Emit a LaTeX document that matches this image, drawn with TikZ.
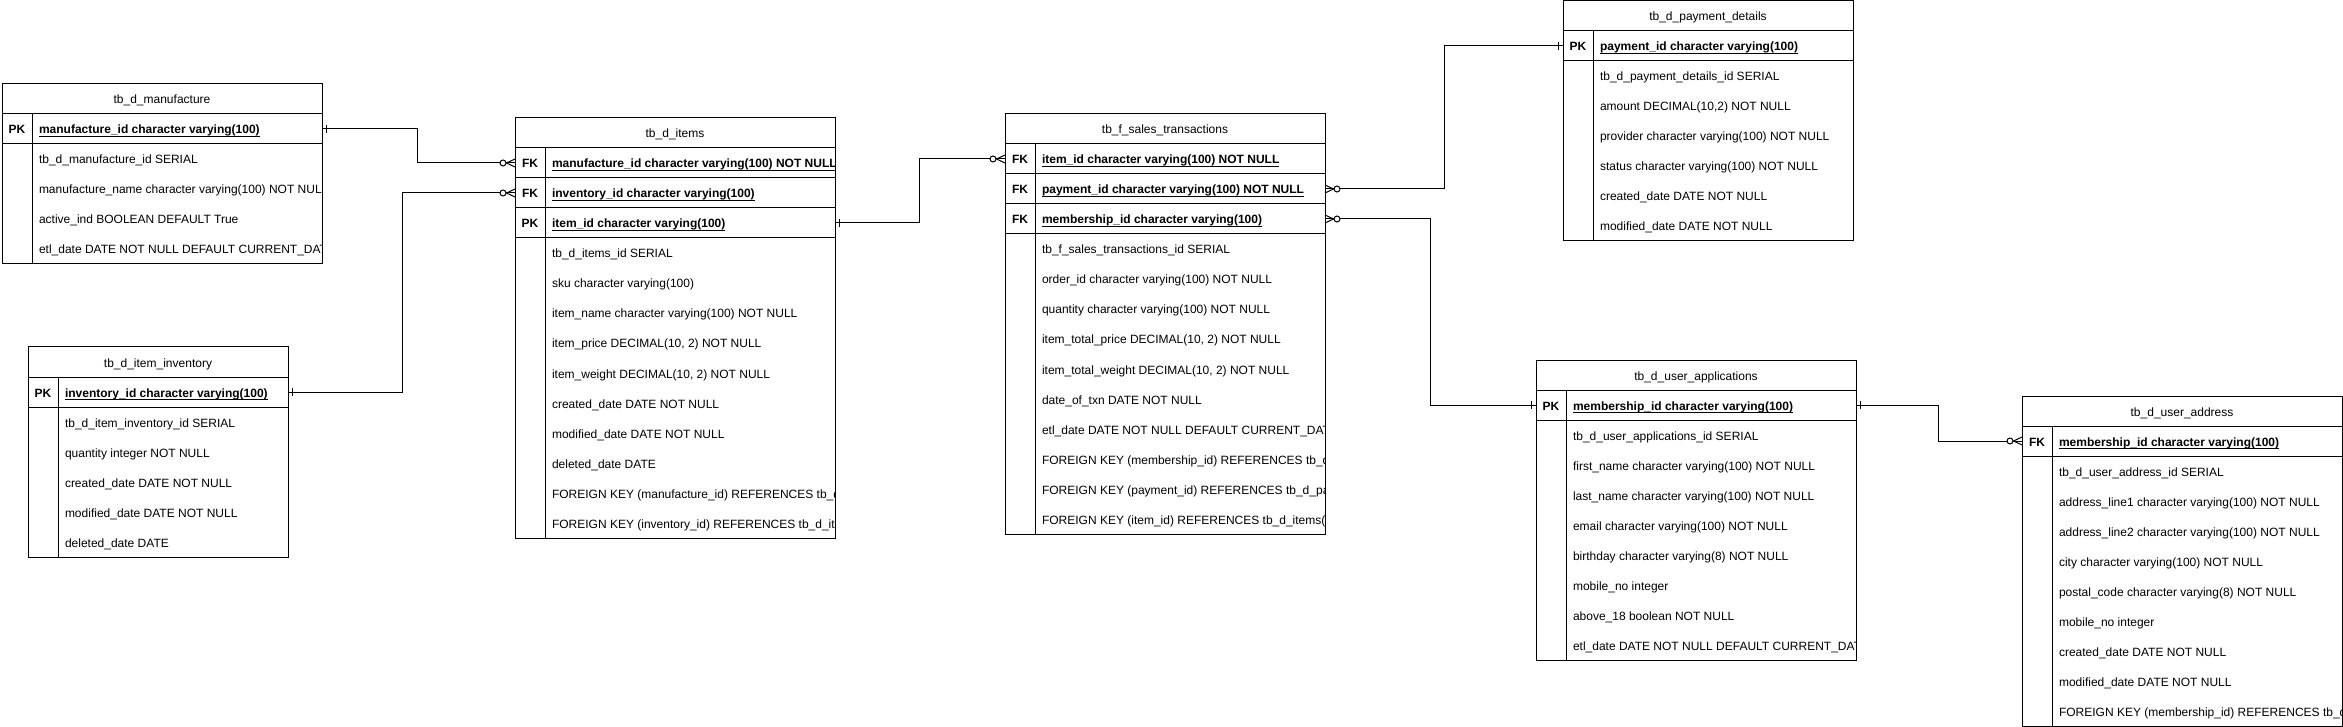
\documentclass[tikz,border=0pt]{standalone}
\usepackage{fontspec}
\setmainfont{Liberation Sans}
\usetikzlibrary{decorations.markings}
\newsavebox\keybox
\newcommand\keyul[1]{\sbox\keybox{#1}\rlap{\rule[-2.6pt]{\wd\keybox}{0.9pt}}\usebox\keybox}

\begin{document}
\begin{tikzpicture}[x=1pt, y=-1pt, line width=1pt,
    every node/.style={outer sep=0pt, font=\fontsize{12}{14}\selectfont},
    tabhead/.style={draw, anchor=north west, minimum height=30pt, inner sep=0pt, text height=12pt, text depth=2pt},
    keyrow/.style={draw, anchor=north west, minimum height=30pt, inner sep=0pt},
    keylbl/.style={draw, anchor=west, minimum width=30pt, minimum height=30pt, inner sep=0pt, text height=12pt, text depth=2pt, font=\fontsize{12}{14}\selectfont\bfseries},
    fieldtxt/.style={anchor=north west, minimum height=30pt, inner xsep=7pt, inner ysep=0pt, text height=12pt, text depth=2pt},
    keytxt/.style={fieldtxt, anchor=west, font=\fontsize{12}{14}\selectfont\bfseries},
    relline/.style={draw},
    one start/.style={postaction={decorate, decoration={markings,
        mark=at position 4.5pt with {\draw (0,-4pt) -- (0,4pt);}}}},
    many end/.style={
      postaction={decorate, decoration={markings,
        mark=at position -8.5pt with {\draw (8.5pt,-4pt) -- (0,0) -- (8.5pt,4pt);}}},
      postaction={decorate, decoration={markings,
        mark=at position -12pt with {\draw[fill=white] (0,0) circle (3pt);}}}}]
  \useasboundingbox (0,0) rectangle (2343,727);

  % tb_d_manufacture
  \node[tabhead, minimum width=320pt] (man) at (2,84) {tb\_d\_manufacture};
  \node[keyrow, minimum width=320pt] (man_pk) at (man.south west) {};
  \node[keylbl] (man_pkl) at (man_pk.west) {PK};
  \begin{scope}
    \clip (32,114) rectangle (322,264);
    \node[keytxt] (man_pkt) at (man_pkl.east) {\keyul{manufacture\_id character varying(100)}};
    \node[fieldtxt] (man_b1) at (man_pkl.south east) {tb\_d\_manufacture\_id SERIAL};
    \node[fieldtxt] (man_b2) at (man_b1.south west) {manufacture\_name character varying(100) NOT NULL};
    \node[fieldtxt] (man_b3) at (man_b2.south west) {active\_ind BOOLEAN DEFAULT True};
    \node[fieldtxt] (man_b4) at (man_b3.south west) {etl\_date DATE NOT NULL DEFAULT CURRENT\_DATE};
  \end{scope}
  \draw (man_pk.south west) rectangle (man.east |- man_b4.south);
  \draw (man_b1.north west) -- (man_b4.south west);

  % tb_d_item_inventory
  \node[tabhead, minimum width=260pt] (inv) at (28,347) {tb\_d\_item\_inventory};
  \node[keyrow, minimum width=260pt] (inv_pk) at (inv.south west) {};
  \node[keylbl] (inv_pkl) at (inv_pk.west) {PK};
  \begin{scope}
    \clip (58,377) rectangle (288,557);
    \node[keytxt] (inv_pkt) at (inv_pkl.east) {\keyul{inventory\_id character varying(100)}};
    \node[fieldtxt] (inv_b1) at (inv_pkl.south east) {tb\_d\_item\_inventory\_id SERIAL};
    \node[fieldtxt] (inv_b2) at (inv_b1.south west) {quantity integer NOT NULL};
    \node[fieldtxt] (inv_b3) at (inv_b2.south west) {created\_date DATE NOT NULL};
    \node[fieldtxt] (inv_b4) at (inv_b3.south west) {modified\_date DATE NOT NULL};
    \node[fieldtxt] (inv_b5) at (inv_b4.south west) {deleted\_date DATE};
  \end{scope}
  \draw (inv_pk.south west) rectangle (inv.east |- inv_b5.south);
  \draw (inv_b1.north west) -- (inv_b5.south west);

  % tb_d_items
  \node[tabhead, minimum width=320pt] (items) at (515,118) {tb\_d\_items};
  \node[keyrow, minimum width=320pt] (items_fk1) at (items.south west) {};
  \node[keyrow, minimum width=320pt] (items_fk2) at (items_fk1.south west) {};
  \node[keyrow, minimum width=320pt] (items_pk) at (items_fk2.south west) {};
  \node[keylbl] (items_fk1l) at (items_fk1.west) {FK};
  \node[keylbl] (items_fk2l) at (items_fk2.west) {FK};
  \node[keylbl] (items_pkl) at (items_pk.west) {PK};
  \begin{scope}
    \clip (545,148) rectangle (835,538);
    \node[keytxt] (items_fk1t) at (items_fk1l.east) {\keyul{manufacture\_id character varying(100) NOT NULL}};
    \node[keytxt] (items_fk2t) at (items_fk2l.east) {\keyul{inventory\_id character varying(100)}};
    \node[keytxt] (items_pkt) at (items_pkl.east) {\keyul{item\_id character varying(100)}};
    \node[fieldtxt] (items_b1) at (items_pkl.south east) {tb\_d\_items\_id SERIAL};
    \node[fieldtxt] (items_b2) at (items_b1.south west) {sku character varying(100)};
    \node[fieldtxt] (items_b3) at (items_b2.south west) {item\_name character varying(100) NOT NULL};
    \node[fieldtxt] (items_b4) at (items_b3.south west) {item\_price DECIMAL(10, 2) NOT NULL};
    \node[fieldtxt] (items_b5) at (items_b4.south west) {item\_weight DECIMAL(10, 2) NOT NULL};
    \node[fieldtxt] (items_b6) at (items_b5.south west) {created\_date DATE NOT NULL};
    \node[fieldtxt] (items_b7) at (items_b6.south west) {modified\_date DATE NOT NULL};
    \node[fieldtxt] (items_b8) at (items_b7.south west) {deleted\_date DATE};
    \node[fieldtxt] (items_b9) at (items_b8.south west) {FOREIGN KEY (manufacture\_id) REFERENCES tb\_d\_manufacture(manufacture\_id)};
    \node[fieldtxt] (items_b10) at (items_b9.south west) {FOREIGN KEY (inventory\_id) REFERENCES tb\_d\_item\_inventory(inventory\_id)};
  \end{scope}
  \draw (items_pk.south west) rectangle (items.east |- items_b10.south);
  \draw (items_b1.north west) -- (items_b10.south west);

  % tb_f_sales_transactions
  \node[tabhead, minimum width=320pt] (sales) at (1005,114) {tb\_f\_sales\_transactions};
  \node[keyrow, minimum width=320pt] (sales_fk1) at (sales.south west) {};
  \node[keyrow, minimum width=320pt] (sales_fk2) at (sales_fk1.south west) {};
  \node[keyrow, minimum width=320pt] (sales_fk3) at (sales_fk2.south west) {};
  \node[keylbl] (sales_fk1l) at (sales_fk1.west) {FK};
  \node[keylbl] (sales_fk2l) at (sales_fk2.west) {FK};
  \node[keylbl] (sales_fk3l) at (sales_fk3.west) {FK};
  \begin{scope}
    \clip (1035,144) rectangle (1325,534);
    \node[keytxt] (sales_fk1t) at (sales_fk1l.east) {\keyul{item\_id character varying(100) NOT NULL}};
    \node[keytxt] (sales_fk2t) at (sales_fk2l.east) {\keyul{payment\_id character varying(100) NOT NULL}};
    \node[keytxt] (sales_fk3t) at (sales_fk3l.east) {\keyul{membership\_id character varying(100)}};
    \node[fieldtxt] (sales_b1) at (sales_fk3l.south east) {tb\_f\_sales\_transactions\_id SERIAL};
    \node[fieldtxt] (sales_b2) at (sales_b1.south west) {order\_id character varying(100) NOT NULL};
    \node[fieldtxt] (sales_b3) at (sales_b2.south west) {quantity character varying(100) NOT NULL};
    \node[fieldtxt] (sales_b4) at (sales_b3.south west) {item\_total\_price DECIMAL(10, 2) NOT NULL};
    \node[fieldtxt] (sales_b5) at (sales_b4.south west) {item\_total\_weight DECIMAL(10, 2) NOT NULL};
    \node[fieldtxt] (sales_b6) at (sales_b5.south west) {date\_of\_txn DATE NOT NULL};
    \node[fieldtxt] (sales_b7) at (sales_b6.south west) {etl\_date DATE NOT NULL DEFAULT CURRENT\_DATE};
    \node[fieldtxt] (sales_b8) at (sales_b7.south west) {FOREIGN KEY (membership\_id) REFERENCES tb\_d\_user\_applications(membership\_id)};
    \node[fieldtxt] (sales_b9) at (sales_b8.south west) {FOREIGN KEY (payment\_id) REFERENCES tb\_d\_payment\_details(payment\_id)};
    \node[fieldtxt] (sales_b10) at (sales_b9.south west) {FOREIGN KEY (item\_id) REFERENCES tb\_d\_items(item\_id)};
  \end{scope}
  \draw (sales_fk3.south west) rectangle (sales.east |- sales_b10.south);
  \draw (sales_b1.north west) -- (sales_b10.south west);

  % tb_d_payment_details
  \node[tabhead, minimum width=290pt] (pay) at (1563,1) {tb\_d\_payment\_details};
  \node[keyrow, minimum width=290pt] (pay_pk) at (pay.south west) {};
  \node[keylbl] (pay_pkl) at (pay_pk.west) {PK};
  \begin{scope}
    \clip (1593,31) rectangle (1853,241);
    \node[keytxt] (pay_pkt) at (pay_pkl.east) {\keyul{payment\_id character varying(100)}};
    \node[fieldtxt] (pay_b1) at (pay_pkl.south east) {tb\_d\_payment\_details\_id SERIAL};
    \node[fieldtxt] (pay_b2) at (pay_b1.south west) {amount DECIMAL(10,2) NOT NULL};
    \node[fieldtxt] (pay_b3) at (pay_b2.south west) {provider character varying(100) NOT NULL};
    \node[fieldtxt] (pay_b4) at (pay_b3.south west) {status character varying(100) NOT NULL};
    \node[fieldtxt] (pay_b5) at (pay_b4.south west) {created\_date DATE NOT NULL};
    \node[fieldtxt] (pay_b6) at (pay_b5.south west) {modified\_date DATE NOT NULL};
  \end{scope}
  \draw (pay_pk.south west) rectangle (pay.east |- pay_b6.south);
  \draw (pay_b1.north west) -- (pay_b6.south west);

  % tb_d_user_applications
  \node[tabhead, minimum width=320pt] (user) at (1536,360) {tb\_d\_user\_applications};
  \node[keyrow, minimum width=320pt] (user_pk) at (user.south west) {};
  \node[keylbl] (user_pkl) at (user_pk.west) {PK};
  \begin{scope}
    \clip (1566,390) rectangle (1856,660);
    \node[keytxt] (user_pkt) at (user_pkl.east) {\keyul{membership\_id character varying(100)}};
    \node[fieldtxt] (user_b1) at (user_pkl.south east) {tb\_d\_user\_applications\_id SERIAL};
    \node[fieldtxt] (user_b2) at (user_b1.south west) {first\_name character varying(100) NOT NULL};
    \node[fieldtxt] (user_b3) at (user_b2.south west) {last\_name character varying(100) NOT NULL};
    \node[fieldtxt] (user_b4) at (user_b3.south west) {email character varying(100) NOT NULL};
    \node[fieldtxt] (user_b5) at (user_b4.south west) {birthday character varying(8) NOT NULL};
    \node[fieldtxt] (user_b6) at (user_b5.south west) {mobile\_no integer};
    \node[fieldtxt] (user_b7) at (user_b6.south west) {above\_18 boolean NOT NULL};
    \node[fieldtxt] (user_b8) at (user_b7.south west) {etl\_date DATE NOT NULL DEFAULT CURRENT\_DATE};
  \end{scope}
  \draw (user_pk.south west) rectangle (user.east |- user_b8.south);
  \draw (user_b1.north west) -- (user_b8.south west);

  % tb_d_user_address
  \node[tabhead, minimum width=320pt] (addr) at (2022,396) {tb\_d\_user\_address};
  \node[keyrow, minimum width=320pt] (addr_fk) at (addr.south west) {};
  \node[keylbl] (addr_fkl) at (addr_fk.west) {FK};
  \begin{scope}
    \clip (2052,426) rectangle (2342,726);
    \node[keytxt] (addr_fkt) at (addr_fkl.east) {\keyul{membership\_id character varying(100)}};
    \node[fieldtxt] (addr_b1) at (addr_fkl.south east) {tb\_d\_user\_address\_id SERIAL};
    \node[fieldtxt] (addr_b2) at (addr_b1.south west) {address\_line1 character varying(100) NOT NULL};
    \node[fieldtxt] (addr_b3) at (addr_b2.south west) {address\_line2 character varying(100) NOT NULL};
    \node[fieldtxt] (addr_b4) at (addr_b3.south west) {city character varying(100) NOT NULL};
    \node[fieldtxt] (addr_b5) at (addr_b4.south west) {postal\_code character varying(8) NOT NULL};
    \node[fieldtxt] (addr_b6) at (addr_b5.south west) {mobile\_no integer};
    \node[fieldtxt] (addr_b7) at (addr_b6.south west) {created\_date DATE NOT NULL};
    \node[fieldtxt] (addr_b8) at (addr_b7.south west) {modified\_date DATE NOT NULL};
    \node[fieldtxt] (addr_b9) at (addr_b8.south west) {FOREIGN KEY (membership\_id) REFERENCES tb\_d\_user\_applications(membership\_id)};
  \end{scope}
  \draw (addr_fk.south west) rectangle (addr.east |- addr_b9.south);
  \draw (addr_b1.north west) -- (addr_b9.south west);

  % relations
  \path[relline, one start, many end] (man_pk.east) -- ++(95,0) |- (items_fk1.west);
  \path[relline, one start, many end] (inv_pk.east) -- ++(114,0) |- (items_fk2.west);
  \path[relline, one start, many end] (items_pk.east) -- ++(84,0) |- (sales_fk1.west);
  \path[relline, one start, many end] (pay_pk.west) -- ++(-119,0) |- (sales_fk2.east);
  \path[relline, one start, many end] (user_pk.west) -- ++(-106,0) |- (sales_fk3.east);
  \path[relline, one start, many end] (user_pk.east) -- ++(82,0) |- (addr_fk.west);
\end{tikzpicture}
\end{document}
